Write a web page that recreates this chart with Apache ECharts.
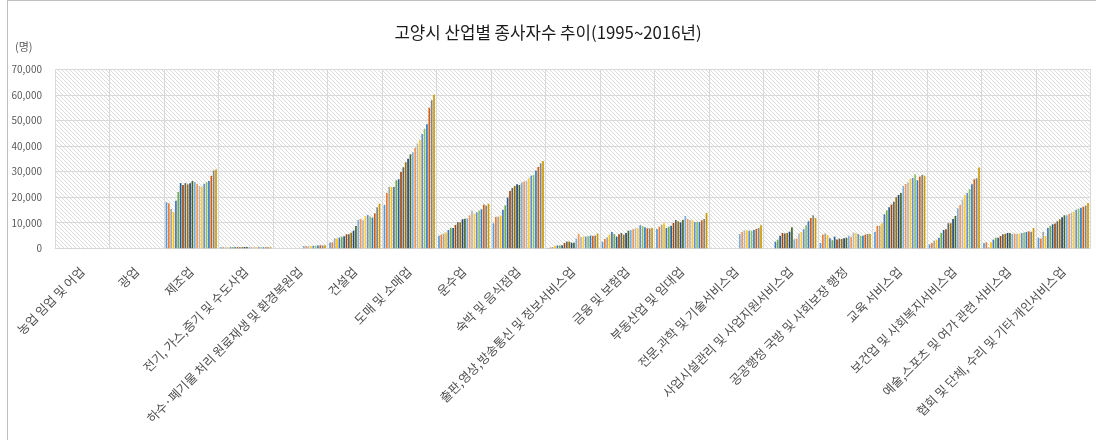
<!DOCTYPE html>
<html>
<head>
<meta charset="utf-8">
<script src="https://cdn.jsdelivr.net/npm/echarts@6/dist/echarts.min.js"></script>
<style>
html,body{margin:0;padding:0;background:#fff;}
#chart{position:absolute;left:0;top:0;width:1096px;height:440px;}
#frame{position:absolute;left:7px;top:0;width:1089px;height:440px;border-top:1px solid #c0c0c0;border-left:1px solid #c0c0c0;box-sizing:border-box;pointer-events:none;}
</style>
</head>
<body>
<div id="chart"></div>
<div id="frame"></div>
<script>
const years = ['1995','1996','1997','1998','1999','2000','2001','2002','2003','2004','2005','2006','2007','2008','2009','2010','2011','2012','2013','2014','2015','2016'];
const categories = ['농업 임업 및 어업','광업','제조업','전기, 가스,증기 및 수도사업','하수·폐기물 처리 원료재생 및 환경복원업','건설업','도매 및 소매업','운수업','숙박 및 음식점업','출판,영상,방송통신 및 정보서비스업','금융 및 보험업','부동산업 및 임대업','전문,과학 및 기술서비스업','사업시설관리 및 사업지원서비스업','공공행정 국방 및 사회보장 행정','교육 서비스업','보건업 및 사회복지서비스업','예술,스포츠 및 여가 관련 서비스업','협회 및 단체, 수리 및 기타 개인서비스업'];
const yTicks = [0,10000,20000,30000,40000,50000,60000,70000];

const agriculture = [30,30,30,30,30,30,30,30,30,30,30,30,30,30,30,30,30,30,30,30,30,30];
const mining = [10,10,10,10,10,10,10,10,10,10,10,10,10,10,10,10,10,10,10,10,10,10];
const manufacturing = [18000,17600,15400,14200,18600,22000,25500,24800,25500,25000,25400,26300,25900,25200,24400,24100,25200,25900,26300,28300,30400,30800];
const utilities = [400,400,350,300,400,450,450,450,400,450,500,500,450,450,450,450,450,450,400,400,400,400];
const sewage = [null,null,null,null,null,null,null,null,null,null,null,null,900,900,900,950,950,1000,1050,1150,1150,1200];
const construction = [2200,2350,3900,3800,4200,4550,4700,5500,5500,6100,6900,8700,11100,11500,10950,12650,13050,12400,12000,13700,16050,17450];
const wholesale = [16950,21650,24000,24000,24000,26600,27000,29850,31700,33650,35000,36750,37550,39350,40950,42350,44700,46700,48500,55000,57900,60000];
const transport = [4950,5350,5750,6150,7150,7950,7950,9150,10150,10150,11350,11600,11750,12900,14750,13550,14100,14750,15250,17100,16700,17450];
const accommodation = [9800,12250,12400,12800,15100,16800,19800,22450,23600,24400,25050,24750,25700,26100,26450,27400,28400,28700,30400,31800,33250,34150];
const publishing = [150,300,500,1000,1100,1150,1200,2100,2700,2600,2200,2200,3800,5700,4400,4600,4600,4700,4950,4900,4950,5750];
const finance = [2600,3650,4300,5350,6400,5600,4550,5500,6000,5350,6000,6900,7150,7450,7800,7800,9000,8750,8200,7800,7800,7950];
const realEstate = [7550,8450,9250,9800,7950,8450,8850,9900,11100,10550,10150,11100,12650,11450,11100,10950,10300,10300,10300,10950,11450,13800];
const professional = [null,null,null,null,null,null,null,null,null,null,null,null,5600,6500,7050,7050,6900,6900,7150,7550,7950,9000];
const businessSupport = [null,null,null,null,2600,3400,4950,6000,5750,6000,6500,8200,3500,3800,5750,6400,7450,9000,10550,11850,12900,11850];
const publicAdmin = [2100,5350,5750,5200,3900,3150,4550,3400,3800,3650,3900,4150,4950,4550,6150,5850,5600,4950,4950,5350,5600,5600];
const education = [6400,8750,8850,9800,13300,14850,16050,17100,18250,19950,20850,21650,24400,25150,25800,27100,27500,28950,26600,28050,28700,28400];
const health = [1550,2100,3000,3400,4150,6000,7150,7450,9800,9800,11450,12650,15650,16950,19050,20850,21650,23200,25050,27000,27400,31550];
const arts = [2100,2350,400,2350,3400,4150,4150,4800,5500,5600,6000,6000,5600,5750,5600,5750,6000,6150,6400,6650,6400,7950];
const otherServices = [4150,3800,6400,4800,7950,8750,9400,9650,10550,11350,12150,12900,12900,13450,13950,14350,15100,15500,15900,16300,16700,17750];

const byCategory = [agriculture, mining, manufacturing, utilities, sewage, construction, wholesale, transport, accommodation, publishing, finance, realEstate, professional, businessSupport, publicAdmin, education, health, arts, otherServices];

const palette = ['#5B9BD5','#ED7D31','#A5A5A5','#FFC000','#4472C4','#70AD47','#255E91','#9E480E','#636363','#997300','#264478','#43682B','#7CAFDD','#F1975A','#B7B7B7','#FFCD33','#698ED0','#8CC168','#327DC2','#D26012','#848484','#CC9A00'];

// hatch pattern for plot background
const pc = document.createElement('canvas');
pc.width = 8; pc.height = 8;
const ctx = pc.getContext('2d');
ctx.fillStyle = '#ffffff';
ctx.fillRect(0,0,8,8);
ctx.fillStyle = '#dcdcdc';
for (let y = 0; y < 8; y++) {
  for (let x = 0; x < 8; x++) {
    if (((x - y) % 4 + 4) % 4 === 0) ctx.fillRect(x, y, 1, 1);
  }
}

const FONT = '"Noto Sans CJK KR", "Noto Sans", sans-serif';

const chart = echarts.init(document.getElementById('chart'), null, {renderer: 'canvas'});
const series = years.map((yr, i) => ({
  name: yr,
  type: 'bar',
  data: byCategory.map(arr => arr[i]),
  barGap: '40%',
  barCategoryGap: '6%',
  itemStyle: {color: palette[i]},
  animation: false
}));

chart.setOption({
  animation: false,
  textStyle: {fontFamily: FONT},
  title: {
    text: '고양시 산업별 종사자수 추이(1995~2016년)',
    left: 'center',
    top: 19,
    textStyle: {fontSize: 16.8, fontWeight: 'normal', color: '#1a1a1a', fontFamily: FONT}
  },
  graphic: [{
    type: 'text', left: 15, top: 41,
    style: {text: '(명)', fontSize: 11, fill: '#595959', fontFamily: FONT}
  }],
  grid: {
    left: 55, right: 5.5, top: 69.3, bottom: 191.7,
    show: true, borderWidth: 0,
    backgroundColor: {image: pc, repeat: 'repeat'}
  },
  xAxis: {
    type: 'category',
    data: categories,
    axisLine: {lineStyle: {color: '#d9d9d9'}},
    axisTick: {show: false},
    splitLine: {show: true, lineStyle: {color: '#d9d9d9', width: 1}},
    axisLabel: {interval: 0, rotate: 45, fontSize: 12.5, color: '#505050', margin: 21, fontFamily: FONT}
  },
  yAxis: {
    type: 'value',
    min: yTicks[0], max: yTicks[yTicks.length - 1], interval: 10000,
    axisLine: {show: false},
    axisTick: {show: false},
    splitLine: {lineStyle: {color: '#d9d9d9', width: 1}},
    axisLabel: {
      fontSize: 10, color: '#595959', margin: 13, fontFamily: FONT,
      formatter: v => v.toLocaleString('en-US')
    }
  },
  series: series
});
</script>
</body>
</html>
